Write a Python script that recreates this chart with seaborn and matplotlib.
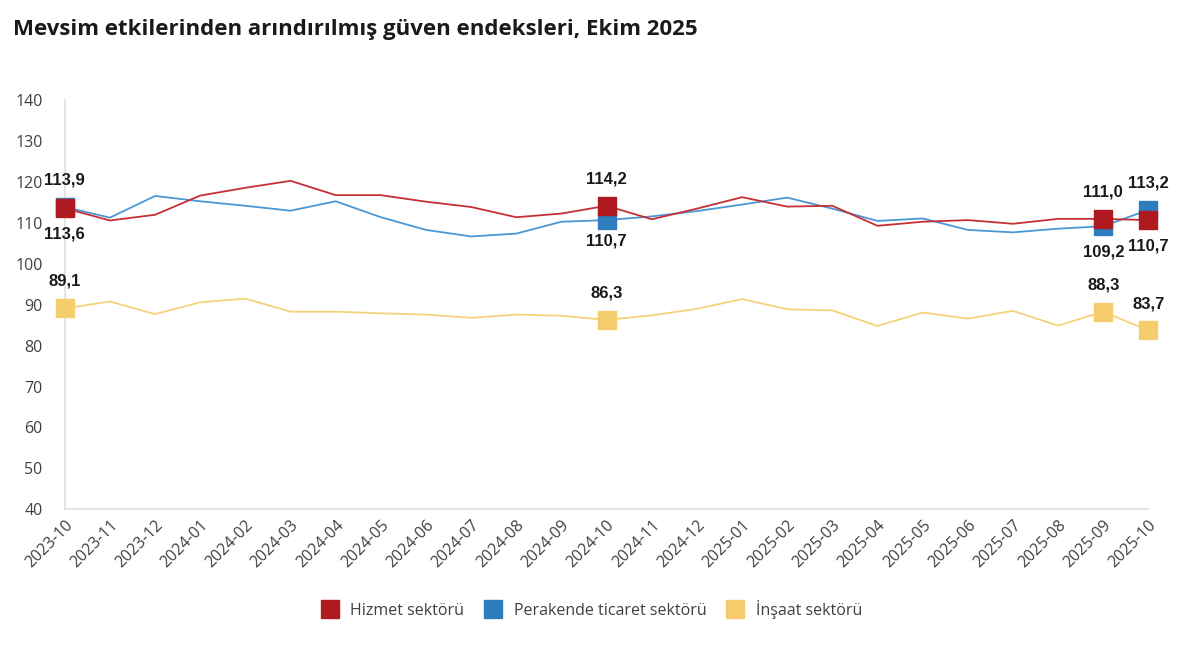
import numpy as np
import pandas as pd
import matplotlib
matplotlib.use('Agg')
import matplotlib.pyplot as plt
import seaborn as sns
from matplotlib.lines import Line2D

# Data
months = ['2023-10', '2023-11', '2023-12', '2024-01', '2024-02', '2024-03', '2024-04',
          '2024-05', '2024-06', '2024-07', '2024-08', '2024-09', '2024-10', '2024-11',
          '2024-12', '2025-01', '2025-02', '2025-03', '2025-04', '2025-05', '2025-06',
          '2025-07', '2025-08', '2025-09', '2025-10']

hizmet = [113.6, 110.6, 112.0, 116.7, 118.6, 120.3, 116.8, 116.8, 115.2, 113.9, 111.4, 112.3,
          114.2, 110.9, 113.5, 116.3, 114.0, 114.2, 109.3, 110.3, 110.7, 109.8, 111.0, 111.0, 110.7]
perakende = [113.9, 111.3, 116.6, 115.3, 114.2, 113.0, 115.3, 111.4, 108.3, 106.7, 107.4, 110.3,
             110.7, 111.6, 112.9, 114.5, 116.2, 113.5, 110.5, 111.1, 108.3, 107.7, 108.6, 109.2, 113.2]
insaat = [89.1, 90.8, 87.7, 90.6, 91.5, 88.3, 88.3, 87.9, 87.6, 86.8, 87.6, 87.3,
          86.3, 87.4, 89.0, 91.4, 88.9, 88.6, 84.8, 88.1, 86.6, 88.5, 84.9, 88.3, 83.7]

series_names = ['Hizmet sektörü', 'Perakende ticaret sektörü', 'İnşaat sektörü']
marked_months = ['2023-10', '2024-10', '2025-09', '2025-10']

line_colors = {'Hizmet sektörü': '#C62F37', 'Perakende ticaret sektörü': '#4A97D4',
               'İnşaat sektörü': '#F5D27A'}
marker_colors = {'Hizmet sektörü': '#AE1A20', 'Perakende ticaret sektörü': '#2E7DBE',
                 'İnşaat sektörü': '#F5CD6C'}

df = pd.DataFrame({'month': months, 'Hizmet sektörü': hizmet,
                   'Perakende ticaret sektörü': perakende, 'İnşaat sektörü': insaat})
long = df.melt(id_vars='month', var_name='seri', value_name='deger')
long['x'] = long['month'].map({m: i for i, m in enumerate(months)})

sns.set_style('white')
plt.rcParams['font.family'] = ['Open Sans', 'DejaVu Sans']

fig = plt.figure(figsize=(12, 6.47), dpi=100)
ax = fig.add_axes([0.054, 0.213, 0.903, 0.632])

# draw order: construction, retail, services (services on top)
draw_order = ['İnşaat sektörü', 'Perakende ticaret sektörü', 'Hizmet sektörü']
for name in draw_order:
    sub = long[long['seri'] == name]
    sns.lineplot(data=sub, x='x', y='deger', color=line_colors[name], linewidth=1.3,
                 ax=ax, legend=False)
    msub = sub[sub['month'].isin(marked_months)]
    ax.plot(msub['x'], msub['deger'], linestyle='none', marker='s', markersize=13,
            color=marker_colors[name], zorder=5, clip_on=False)

# value labels
def lab(series, month, above, off=None):
    i = months.index(month)
    v = df.loc[i, series]
    if off is None:
        off = 14 if above else -13
    ax.annotate(f'{v:.1f}'.replace('.', ','), (i, v),
                xytext=(0, off), textcoords='offset points',
                ha='center', va='bottom' if above else 'top',
                fontsize=12, fontweight='bold', family='Liberation Sans', color='#1a1a1a',
                zorder=6, annotation_clip=False)

lab('Perakende ticaret sektörü', '2023-10', True)
lab('Hizmet sektörü', '2023-10', False)
lab('İnşaat sektörü', '2023-10', True)
lab('Hizmet sektörü', '2024-10', True)
lab('Perakende ticaret sektörü', '2024-10', False, -10)
lab('İnşaat sektörü', '2024-10', True)
lab('Hizmet sektörü', '2025-09', True)
lab('Perakende ticaret sektörü', '2025-09', False)
lab('İnşaat sektörü', '2025-09', True)
lab('Perakende ticaret sektörü', '2025-10', True)
lab('Hizmet sektörü', '2025-10', False)
lab('İnşaat sektörü', '2025-10', True)

ax.set_xlim(0, len(months) - 1)
ax.set_ylim(40, 140)
ax.set_yticks(np.arange(40, 141, 10))
ax.set_xticks(range(len(months)))
ax.set_xticklabels(months, rotation=45, ha='right', rotation_mode='anchor')
ax.tick_params(axis='both', length=0, labelsize=11.5, labelcolor='#404040')
ax.tick_params(axis='x', pad=6)
ax.tick_params(axis='y', pad=16)
ax.set_xlabel('')
ax.set_ylabel('')
for s in ['top', 'right']:
    ax.spines[s].set_visible(False)
for s in ['left', 'bottom']:
    ax.spines[s].set_color('#E0E0E0')
    ax.spines[s].set_linewidth(1.2)
ax.grid(False)

fig.text(0.011, 0.955, 'Mevsim etkilerinden arındırılmış güven endeksleri, Ekim 2025',
         fontsize=16, fontweight='bold', color='#1a1a1a', ha='left', va='center')

handles = [Line2D([], [], linestyle='none', marker='s', markersize=13,
                  color=marker_colors[n]) for n in series_names]
fig.legend(handles, series_names, loc='center', bbox_to_anchor=(0.49, 0.058), ncol=3,
           frameon=False, fontsize=11.5, handletextpad=0.3, columnspacing=0.8,
           labelcolor='#404040')

fig.savefig('out.png', dpi=100)
